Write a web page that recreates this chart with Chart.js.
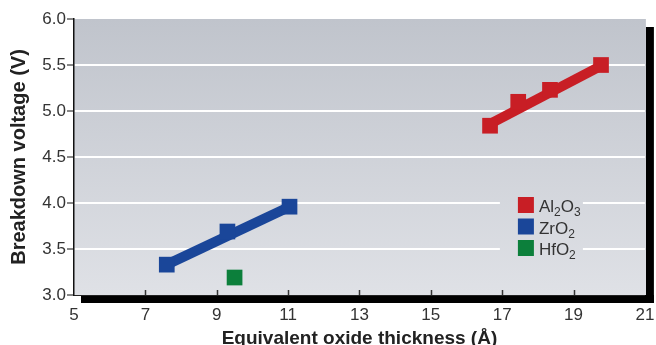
<!DOCTYPE html>
<html>
<head>
<meta charset="utf-8">
<script src="https://cdn.jsdelivr.net/npm/chart.js@4"></script>
<style>
  body { margin: 0; background: #fff; }
  #wrap { width: 656px; height: 345px; position: relative; }
</style>
</head>
<body>
<div id="wrap"><canvas id="grafico"></canvas></div>
<script>
// datos
let seriesNames = ['Al₂O₃', 'ZrO₂', 'HfO₂'];
let seriesColors = ['#c81e25', '#1a4699', '#0c7f3b'];

let al2o3X = [16.66, 17.45, 18.34, 19.77];
let al2o3Y = [4.84, 5.10, 5.23, 5.50];
let zro2X = [7.60, 9.30, 11.04];
let zro2Y = [3.33, 3.69, 3.96];
let hfo2X = [9.50];
let hfo2Y = [3.19];

// rectas de ajuste (extremos)
let al2o3FitX = [16.66, 19.77];
let al2o3FitY = [4.86, 5.49];
let zro2FitX = [7.60, 11.04];
let zro2FitY = [3.33, 3.96];

let xTicks = [5, 7, 9, 11, 13, 15, 17, 19, 21];
let yTicks = [3.0, 3.5, 4.0, 4.5, 5.0, 5.5, 6.0];

let fuente = '"Liberation Sans", Arial, sans-serif';

function puntos(xs, ys) {
    return xs.map((x, i) => ({ x: x, y: ys[i] }));
}

function degradado(chart) {
    let a = chart.chartArea;
    let g = chart.ctx.createLinearGradient(0, a.top, 0, a.bottom);
    g.addColorStop(0, 'rgb(192,196,204)');
    g.addColorStop(1, 'rgb(223,225,230)');
    return g;
}

// fondo gris con sombra negra
let fondoPlugin = {
    id: 'fondo',
    beforeDraw(chart) {
        let ctx = chart.ctx, a = chart.chartArea;
        ctx.save();
        ctx.fillStyle = '#000';
        ctx.fillRect(a.left + 7, a.bottom, a.right - a.left + 2, 8);
        ctx.fillRect(a.right + 1, a.top + 8, 8, a.bottom - a.top);
        ctx.fillStyle = degradado(chart);
        ctx.fillRect(a.left, a.top, a.right - a.left + 1, a.bottom - a.top);
        ctx.restore();
    },
    beforeDatasetsDraw(chart) {
        let ctx = chart.ctx, a = chart.chartArea, xs = chart.scales.x;
        ctx.save();
        // marcas interiores del eje x
        ctx.strokeStyle = '#333';
        ctx.lineWidth = 1.5;
        xTicks.slice(1, -1).forEach(v => {
            let px = Math.round(xs.getPixelForValue(v)) + 0.5;
            ctx.beginPath();
            ctx.moveTo(px, a.bottom);
            ctx.lineTo(px, a.bottom - 5);
            ctx.stroke();
        });
        // caja de la leyenda tapa la rejilla
        ctx.fillStyle = degradado(chart);
        ctx.fillRect(a.right - 145, a.top + 178, 83, 62);
        ctx.restore();
    },
    afterDraw(chart) {
        let ctx = chart.ctx, a = chart.chartArea;
        let x0 = a.right - 127, y0 = a.top + 178;
        ctx.save();
        seriesNames.forEach((nombre, i) => {
            let y = y0 + i * 21.5;
            ctx.fillStyle = seriesColors[i];
            ctx.fillRect(x0, y, 16, 16);
            // texto con subindices
            let tx = x0 + 21, base = y + 15;
            for (let ch of nombre) {
                let code = ch.charCodeAt(0);
                ctx.fillStyle = '#333';
                if (code >= 0x2080 && code <= 0x2089) {
                    let d = String(code - 0x2080);
                    ctx.font = '12px ' + fuente;
                    ctx.fillText(d, tx, base + 4);
                    tx += ctx.measureText(d).width;
                } else {
                    ctx.font = '17px ' + fuente;
                    ctx.fillText(ch, tx, base);
                    tx += ctx.measureText(ch).width;
                }
            }
        });
        ctx.restore();
    }
};

let canvas = document.getElementById('grafico');
let grafica = new Chart(canvas, {
    type: 'scatter',
    data: {
        datasets: [
            {
                label: seriesNames[0],
                data: puntos(al2o3X, al2o3Y),
                backgroundColor: seriesColors[0],
                pointStyle: 'rect', pointRadius: 11.1, pointBorderWidth: 0
            },
            {
                label: seriesNames[1],
                data: puntos(zro2X, zro2Y),
                backgroundColor: seriesColors[1],
                pointStyle: 'rect', pointRadius: 11.1, pointBorderWidth: 0
            },
            {
                label: seriesNames[2],
                data: puntos(hfo2X, hfo2Y),
                backgroundColor: seriesColors[2],
                pointStyle: 'rect', pointRadius: 11.1, pointBorderWidth: 0
            },
            {
                label: 'ajuste Al2O3',
                data: puntos(al2o3FitX, al2o3FitY),
                showLine: true, borderColor: seriesColors[0], borderWidth: 10,
                pointRadius: 0, borderCapStyle: 'butt'
            },
            {
                label: 'ajuste ZrO2',
                data: puntos(zro2FitX, zro2FitY),
                showLine: true, borderColor: seriesColors[1], borderWidth: 10,
                pointRadius: 0, borderCapStyle: 'butt'
            }
        ]
    },
    options: {
        responsive: true,
        maintainAspectRatio: false,
        animation: false,
        layout: { padding: { top: 19, right: 9, bottom: 0, left: 0 } },
        plugins: {
            legend: { display: false },
            tooltip: { enabled: false }
        },
        scales: {
            x: {
                type: 'linear',
                min: 5, max: 21,
                afterFit(scale) {
                    scale.height = 50;
                    scale.paddingLeft = 0;
                    scale.paddingRight = 0;
                },
                afterBuildTicks(scale) { scale.ticks = xTicks.map(v => ({ value: v })); },
                grid: { display: false, drawTicks: false },
                border: { display: true, color: '#222', width: 1 },
                ticks: {
                    padding: 10,
                    color: '#333',
                    font: { family: fuente, size: 17 },
                    maxRotation: 0
                },
                title: {
                    display: true,
                    text: 'Equivalent oxide thickness (Å)',
                    color: '#222',
                    font: { family: fuente, size: 19, weight: 'bold' },
                    padding: { top: 0, bottom: -5 }
                }
            },
            y: {
                min: 3, max: 6,
                afterFit(scale) {
                    scale.width = 74;
                    scale.paddingTop = 0;
                    scale.paddingBottom = 0;
                },
                afterBuildTicks(scale) { scale.ticks = yTicks.map(v => ({ value: v })); },
                grid: {
                    color: c => (c.tick && (c.tick.value === 3 || c.tick.value === 6)) ? 'rgba(0,0,0,0)' : '#ffffff',
                    lineWidth: 2,
                    drawTicks: true,
                    tickLength: 7,
                    tickColor: '#111',
                    tickWidth: 1
                },
                border: { display: true, color: '#111', width: 1.5 },
                ticks: {
                    padding: 1,
                    color: '#333',
                    font: { family: fuente, size: 17 },
                    callback: v => v.toFixed(1)
                },
                title: {
                    display: true,
                    text: 'Breakdown voltage (V)',
                    color: '#222',
                    font: { family: fuente, size: 20, weight: 'bold' },
                    padding: { top: 7, bottom: 0 }
                }
            }
        }
    },
    plugins: [fondoPlugin]
});
</script>
</body>
</html>
